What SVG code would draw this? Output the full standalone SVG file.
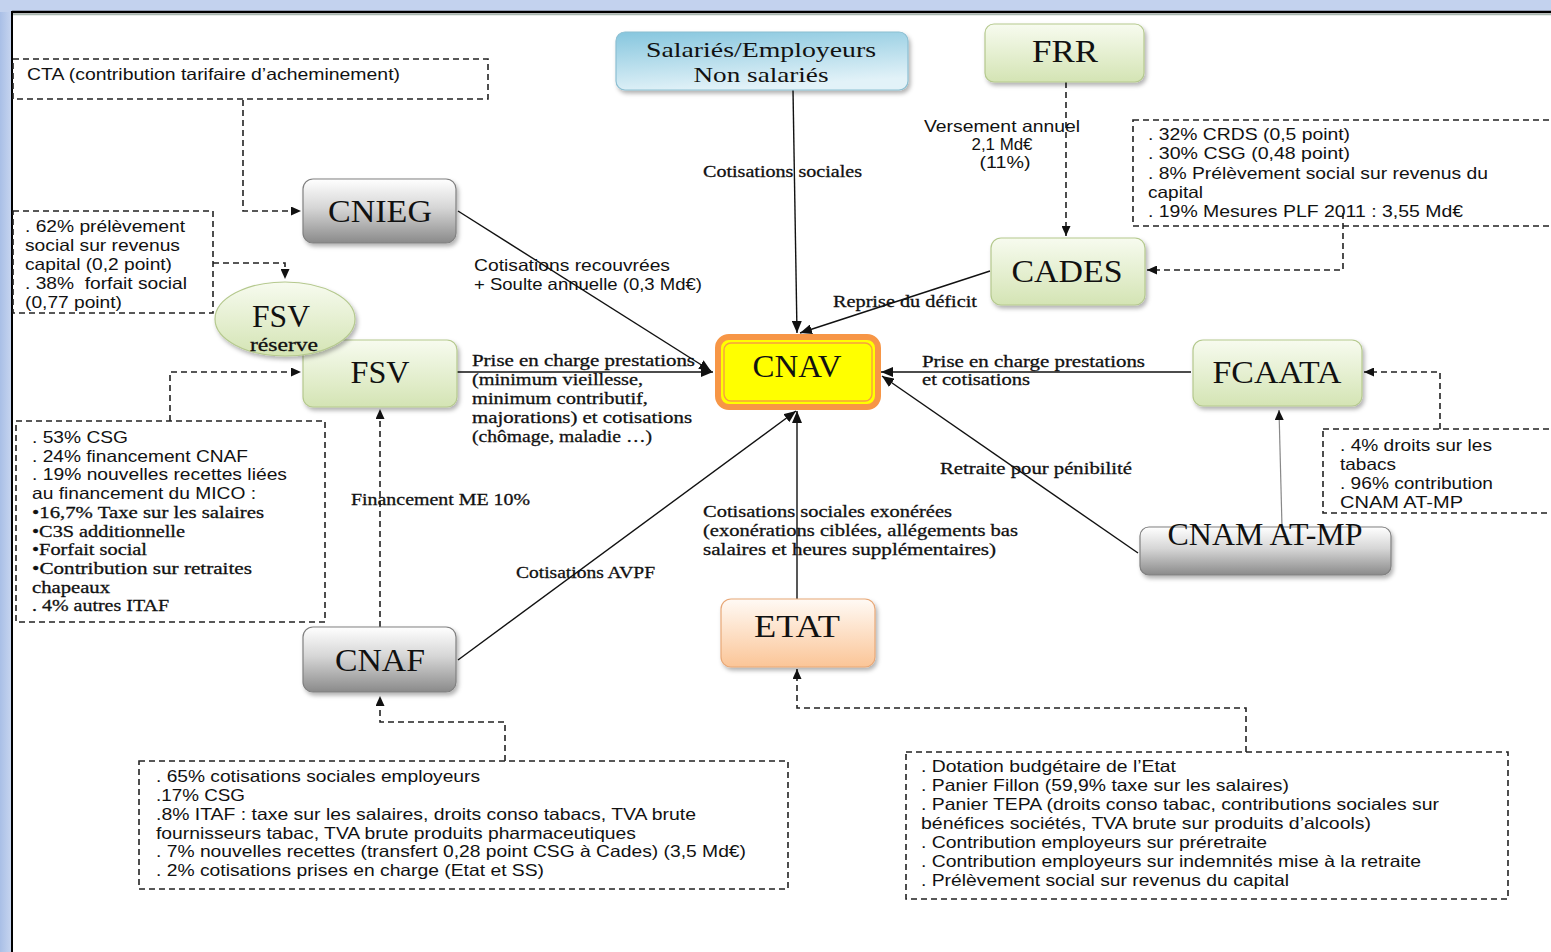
<svg xmlns="http://www.w3.org/2000/svg" width="1551" height="952" viewBox="0 0 1551 952">
<style>
.sans{font-family:"Liberation Sans",Arial,sans-serif;font-size:16.5px;fill:#111}
.serif{font-family:"Liberation Serif","Times New Roman",serif;font-size:17px;fill:#111;stroke:#111;stroke-width:0.3}
.nl{font-family:"Liberation Serif","Times New Roman",serif;font-size:31px;fill:#111;text-anchor:middle}
.box{fill:none;stroke:#222;stroke-width:1.6;stroke-dasharray:6 4}
.dash{fill:none;stroke:#222;stroke-width:1.6;stroke-dasharray:6 4}
.conn{fill:none;stroke:#111;stroke-width:1.4}
.grey{fill:url(#gGrey);stroke:#808080;stroke-width:1.2}
.green{fill:url(#gGreen);stroke:#b5c98e;stroke-width:1.2}
</style>
<defs>
<linearGradient id="gGrey" x1="0" y1="0" x2="0" y2="1"><stop offset="0" stop-color="#ffffff"/><stop offset="0.45" stop-color="#d6d6d6"/><stop offset="1" stop-color="#8a8a8a"/></linearGradient>
<linearGradient id="gGreen" x1="0" y1="0" x2="0" y2="1"><stop offset="0" stop-color="#f7fbef"/><stop offset="1" stop-color="#d4e4b4"/></linearGradient>
<linearGradient id="gBlue" x1="0" y1="0" x2="0.3" y2="1"><stop offset="0" stop-color="#86c6de"/><stop offset="1" stop-color="#e2f2f8"/></linearGradient>
<linearGradient id="gPeach" x1="0" y1="0" x2="0" y2="1"><stop offset="0" stop-color="#fffaf5"/><stop offset="1" stop-color="#fbc597"/></linearGradient>
<linearGradient id="gLeft" x1="0" y1="0" x2="1" y2="0"><stop offset="0" stop-color="#a9bfe6"/><stop offset="1" stop-color="#c8d6f0"/></linearGradient>
<filter id="sh" x="-10%" y="-10%" width="130%" height="140%"><feDropShadow dx="2" dy="3" stdDeviation="2" flood-color="#000" flood-opacity="0.3"/></filter>
<marker id="ah" viewBox="0 0 12 10" refX="12" refY="5" markerWidth="12" markerHeight="10" markerUnits="userSpaceOnUse" orient="auto"><path d="M0,0 L12,5 L0,10 z" fill="#111"/></marker>
<marker id="ad" viewBox="0 0 10 9" refX="10" refY="4.5" markerWidth="10" markerHeight="9" markerUnits="userSpaceOnUse" orient="auto"><path d="M0,0 L10,4.5 L0,9 z" fill="#111"/></marker>
</defs>

<!-- frame -->
<rect x="0" y="0" width="1551" height="952" fill="#c3d2ee"/>
<rect x="0" y="12" width="12" height="940" fill="url(#gLeft)"/>
<rect x="12" y="12" width="1539" height="940" fill="#ffffff"/>
<line x1="12" y1="12" x2="1551" y2="12" stroke="#000" stroke-width="2.5"/>
<line x1="13" y1="14.5" x2="1551" y2="14.5" stroke="#a8b8b0" stroke-width="1.5"/>
<line x1="12" y1="11" x2="12" y2="952" stroke="#000" stroke-width="2"/>

<!-- dashed source boxes -->
<g id="box-cta">
<rect class="box" x="13" y="59" width="475" height="40"/>
<text class="sans" x="27" y="80" textLength="373" lengthAdjust="spacingAndGlyphs">CTA (contribution tarifaire d’acheminement)</text>
</g>
<g id="box-fsvres">
<rect class="box" x="13" y="211" width="200" height="102"/>
<text class="sans" x="25" y="232" textLength="160" lengthAdjust="spacingAndGlyphs">. 62% prélèvement</text>
<text class="sans" x="25" y="251" textLength="155" lengthAdjust="spacingAndGlyphs">social sur revenus</text>
<text class="sans" x="25" y="270" textLength="147" lengthAdjust="spacingAndGlyphs">capital (0,2 point)</text>
<text class="sans" x="25" y="289" textLength="162" lengthAdjust="spacingAndGlyphs" xml:space="preserve">. 38%  forfait social</text>
<text class="sans" x="25" y="308" textLength="97" lengthAdjust="spacingAndGlyphs">(0,77 point)</text>
</g>
<g id="box-fsv">
<rect class="box" x="16" y="421" width="309" height="201"/>
<text class="sans" x="32" y="443" textLength="96" lengthAdjust="spacingAndGlyphs">. 53% CSG</text>
<text class="sans" x="32" y="462" textLength="216" lengthAdjust="spacingAndGlyphs">. 24% financement CNAF</text>
<text class="sans" x="32" y="480" textLength="255" lengthAdjust="spacingAndGlyphs">. 19% nouvelles recettes liées</text>
<text class="sans" x="32" y="499" textLength="224" lengthAdjust="spacingAndGlyphs">au financement du MICO :</text>
<text class="serif" x="32" y="518" textLength="232" lengthAdjust="spacingAndGlyphs">•16,7% Taxe sur les salaires</text>
<text class="serif" x="32" y="537" textLength="153" lengthAdjust="spacingAndGlyphs">•C3S additionnelle</text>
<text class="serif" x="32" y="555" textLength="115" lengthAdjust="spacingAndGlyphs">•Forfait social</text>
<text class="serif" x="32" y="574" textLength="220" lengthAdjust="spacingAndGlyphs">•Contribution sur retraites</text>
<text class="serif" x="32" y="593" textLength="78" lengthAdjust="spacingAndGlyphs">chapeaux</text>
<text class="serif" x="32" y="611" textLength="137" lengthAdjust="spacingAndGlyphs">. 4% autres ITAF</text>
</g>
<g id="box-cades">
<rect class="box" x="1133" y="120" width="430" height="106"/>
<text class="sans" x="1148" y="140" textLength="202" lengthAdjust="spacingAndGlyphs">. 32% CRDS (0,5 point)</text>
<text class="sans" x="1148" y="159" textLength="202" lengthAdjust="spacingAndGlyphs">. 30% CSG (0,48 point)</text>
<text class="sans" x="1148" y="179" textLength="340" lengthAdjust="spacingAndGlyphs">. 8% Prélèvement social sur revenus du</text>
<text class="sans" x="1148" y="198" textLength="55" lengthAdjust="spacingAndGlyphs">capital</text>
<text class="sans" x="1148" y="217" textLength="315" lengthAdjust="spacingAndGlyphs">. 19% Mesures PLF 2011 : 3,55 Md€</text>
</g>
<g id="box-fcaata">
<rect class="box" x="1323" y="429" width="240" height="84"/>
<text class="sans" x="1340" y="451" textLength="152" lengthAdjust="spacingAndGlyphs">. 4% droits sur les</text>
<text class="sans" x="1340" y="470" textLength="56" lengthAdjust="spacingAndGlyphs">tabacs</text>
<text class="sans" x="1340" y="489" textLength="153" lengthAdjust="spacingAndGlyphs">. 96% contribution</text>
<text class="sans" x="1340" y="508" textLength="123" lengthAdjust="spacingAndGlyphs">CNAM AT-MP</text>
</g>
<g id="box-cnaf">
<rect class="box" x="139" y="761" width="649" height="128"/>
<text class="sans" x="156" y="782" textLength="324" lengthAdjust="spacingAndGlyphs">. 65% cotisations sociales employeurs</text>
<text class="sans" x="156" y="801" textLength="89" lengthAdjust="spacingAndGlyphs">.17% CSG</text>
<text class="sans" x="156" y="820" textLength="540" lengthAdjust="spacingAndGlyphs">.8% ITAF : taxe sur les salaires, droits conso tabacs, TVA brute</text>
<text class="sans" x="156" y="839" textLength="480" lengthAdjust="spacingAndGlyphs">fournisseurs tabac, TVA brute produits pharmaceutiques</text>
<text class="sans" x="156" y="857" textLength="590" lengthAdjust="spacingAndGlyphs">. 7% nouvelles recettes (transfert 0,28 point CSG à Cades) (3,5 Md€)</text>
<text class="sans" x="156" y="876" textLength="388" lengthAdjust="spacingAndGlyphs">. 2% cotisations prises en charge (Etat et SS)</text>
</g>
<g id="box-etat">
<rect class="box" x="906" y="752" width="602" height="147"/>
<text class="sans" x="921" y="772" textLength="255" lengthAdjust="spacingAndGlyphs">. Dotation budgétaire de l’Etat</text>
<text class="sans" x="921" y="791" textLength="368" lengthAdjust="spacingAndGlyphs">. Panier Fillon (59,9% taxe sur les salaires)</text>
<text class="sans" x="921" y="810" textLength="518" lengthAdjust="spacingAndGlyphs">. Panier TEPA (droits conso tabac, contributions sociales sur</text>
<text class="sans" x="921" y="829" textLength="450" lengthAdjust="spacingAndGlyphs">bénéfices sociétés, TVA brute sur produits d’alcools)</text>
<text class="sans" x="921" y="848" textLength="346" lengthAdjust="spacingAndGlyphs">. Contribution employeurs sur préretraite</text>
<text class="sans" x="921" y="867" textLength="500" lengthAdjust="spacingAndGlyphs">. Contribution employeurs sur indemnités mise à la retraite</text>
<text class="sans" x="921" y="886" textLength="368" lengthAdjust="spacingAndGlyphs">. Prélèvement social sur revenus du capital</text>
</g>

<!-- connectors -->
<g id="connectors">
<path class="dash" d="M243,100 V211 H301" marker-end="url(#ad)"/>
<path class="dash" d="M213,263 H285 V279" marker-end="url(#ad)"/>
<path class="dash" d="M170,421 V372 H301" marker-end="url(#ad)"/>
<path class="dash" d="M380,627 V409" marker-end="url(#ad)"/>
<path class="dash" d="M505,761 V722 H380 V696" marker-end="url(#ad)"/>
<path class="dash" d="M1066,82 V236" marker-end="url(#ad)"/>
<path class="dash" d="M1343,213 V270 H1147" marker-end="url(#ad)"/>
<path class="dash" d="M1440,429 V372 H1364" marker-end="url(#ad)"/>
<path class="dash" d="M1246,752 V708 H797 V669" marker-end="url(#ad)"/>
<path class="conn" d="M793,90 L797,333" marker-end="url(#ah)"/>
<path class="conn" d="M458,211 L711,371" marker-end="url(#ah)"/>
<path class="conn" d="M457,372 L713,372" marker-end="url(#ah)"/>
<path class="conn" d="M990,271 L800,333" marker-end="url(#ah)"/>
<path class="conn" d="M1191,372 L881,372" marker-end="url(#ah)"/>
<path class="conn" d="M1138,553 L882,376" marker-end="url(#ah)"/>
<path class="conn" d="M797,599 L797,411" marker-end="url(#ah)"/>
<path class="conn" d="M458,660 L796,411" marker-end="url(#ah)"/>
<path d="M1282,527 L1279,410" fill="none" stroke="#888" stroke-width="1.2" marker-end="url(#ad)"/>
</g>

<!-- connector labels -->
<g id="labels">
<text class="serif" x="703" y="177" textLength="159" lengthAdjust="spacingAndGlyphs">Cotisations sociales</text>
<text class="sans" x="1002" y="132" text-anchor="middle" textLength="156" lengthAdjust="spacingAndGlyphs">Versement annuel</text>
<text class="sans" x="1002" y="150" text-anchor="middle" textLength="61" lengthAdjust="spacingAndGlyphs">2,1 Md€</text>
<text class="sans" x="1005" y="168" text-anchor="middle" textLength="51" lengthAdjust="spacingAndGlyphs">(11%)</text>
<text class="sans" x="474" y="271" textLength="196" lengthAdjust="spacingAndGlyphs">Cotisations recouvrées</text>
<text class="sans" x="474" y="290" textLength="228" lengthAdjust="spacingAndGlyphs">+ Soulte annuelle (0,3 Md€)</text>
<text class="serif" x="833" y="307" textLength="144" lengthAdjust="spacingAndGlyphs">Reprise du déficit</text>
<text class="serif" x="472" y="366" textLength="223" lengthAdjust="spacingAndGlyphs">Prise en charge prestations</text>
<text class="serif" x="472" y="385" textLength="171" lengthAdjust="spacingAndGlyphs">(minimum vieillesse,</text>
<text class="serif" x="472" y="404" textLength="176" lengthAdjust="spacingAndGlyphs">minimum contributif,</text>
<text class="serif" x="472" y="423" textLength="220" lengthAdjust="spacingAndGlyphs">majorations) et cotisations</text>
<text class="serif" x="472" y="442" textLength="180" lengthAdjust="spacingAndGlyphs">(chômage, maladie …)</text>
<text class="serif" x="922" y="367" textLength="223" lengthAdjust="spacingAndGlyphs">Prise en charge prestations</text>
<text class="serif" x="922" y="385" textLength="108" lengthAdjust="spacingAndGlyphs">et cotisations</text>
<text class="serif" x="940" y="474" textLength="192" lengthAdjust="spacingAndGlyphs">Retraite pour pénibilité</text>
<text class="serif" x="703" y="517" textLength="249" lengthAdjust="spacingAndGlyphs">Cotisations sociales exonérées</text>
<text class="serif" x="703" y="536" textLength="315" lengthAdjust="spacingAndGlyphs">(exonérations ciblées, allégements bas</text>
<text class="serif" x="703" y="555" textLength="293" lengthAdjust="spacingAndGlyphs">salaires et heures supplémentaires)</text>
<text class="serif" x="351" y="505" textLength="179" lengthAdjust="spacingAndGlyphs">Financement ME 10%</text>
<text class="serif" x="516" y="578" textLength="139" lengthAdjust="spacingAndGlyphs">Cotisations AVPF</text>
</g>

<!-- nodes -->
<g id="node-salaries">
<rect x="616" y="32" width="292" height="58" rx="9" fill="url(#gBlue)" stroke="#8cbfd2" stroke-width="1.2" filter="url(#sh)"/>
<text x="761" y="57" text-anchor="middle" font-family="Liberation Serif, serif" font-size="21" fill="#111" textLength="230" lengthAdjust="spacingAndGlyphs">Salariés/Employeurs</text>
<text x="761" y="82" text-anchor="middle" font-family="Liberation Serif, serif" font-size="21" fill="#111" textLength="135" lengthAdjust="spacingAndGlyphs">Non salariés</text>
</g>
<g id="node-frr">
<rect class="green" x="985" y="24" width="159" height="58" rx="9" filter="url(#sh)"/>
<text class="nl" x="1065" y="62" textLength="66" lengthAdjust="spacingAndGlyphs">FRR</text>
</g>
<g id="node-cnieg">
<rect class="grey" x="303" y="179" width="153" height="64" rx="10" filter="url(#sh)"/>
<text class="nl" x="380" y="222" textLength="104" lengthAdjust="spacingAndGlyphs">CNIEG</text>
</g>
<g id="node-fsv">
<rect class="green" x="303" y="340" width="154" height="67" rx="10" filter="url(#sh)"/>
<text class="nl" x="380" y="383" textLength="59" lengthAdjust="spacingAndGlyphs">FSV</text>
</g>
<g id="node-fsvres">
<ellipse cx="285" cy="319" rx="70" ry="37" fill="url(#gGreen)" stroke="#b5c98e" stroke-width="1.2" filter="url(#sh)"/>
<text class="nl" x="281" y="327" textLength="58" lengthAdjust="spacingAndGlyphs">FSV</text>
<text x="284" y="351" text-anchor="middle" font-family="Liberation Serif, serif" font-size="18" fill="#111" stroke="#111" stroke-width="0.3" textLength="68" lengthAdjust="spacingAndGlyphs">réserve</text>
</g>
<g id="node-cades">
<rect class="green" x="991" y="238" width="154" height="67" rx="10" filter="url(#sh)"/>
<text class="nl" x="1067" y="282" textLength="111" lengthAdjust="spacingAndGlyphs">CADES</text>
</g>
<g id="node-cnav">
<rect x="718" y="337" width="160" height="70" rx="11" fill="#ffff00" stroke="#f79646" stroke-width="6"/>
<rect x="724" y="343" width="148" height="58" rx="7" fill="none" stroke="#f7a040" stroke-width="1.4"/>
<text class="nl" x="797" y="377" textLength="89" lengthAdjust="spacingAndGlyphs">CNAV</text>
</g>
<g id="node-fcaata">
<rect class="green" x="1193" y="340" width="169" height="66" rx="10" filter="url(#sh)"/>
<text class="nl" x="1277" y="383" textLength="129" lengthAdjust="spacingAndGlyphs">FCAATA</text>
</g>
<g id="node-cnam">
<rect class="grey" x="1140" y="527" width="251" height="48" rx="9" filter="url(#sh)"/>
<text class="nl" x="1265" y="545" font-size="28" textLength="195" lengthAdjust="spacingAndGlyphs">CNAM AT-MP</text>
</g>
<g id="node-etat">
<rect x="721" y="599" width="154" height="68" rx="10" fill="url(#gPeach)" stroke="#e8a877" stroke-width="1.2" filter="url(#sh)"/>
<text class="nl" x="797" y="637" textLength="86" lengthAdjust="spacingAndGlyphs">ETAT</text>
</g>
<g id="node-cnaf">
<rect class="grey" x="303" y="627" width="153" height="65" rx="10" filter="url(#sh)"/>
<text class="nl" x="380" y="671" textLength="90" lengthAdjust="spacingAndGlyphs">CNAF</text>
</g>
</svg>
